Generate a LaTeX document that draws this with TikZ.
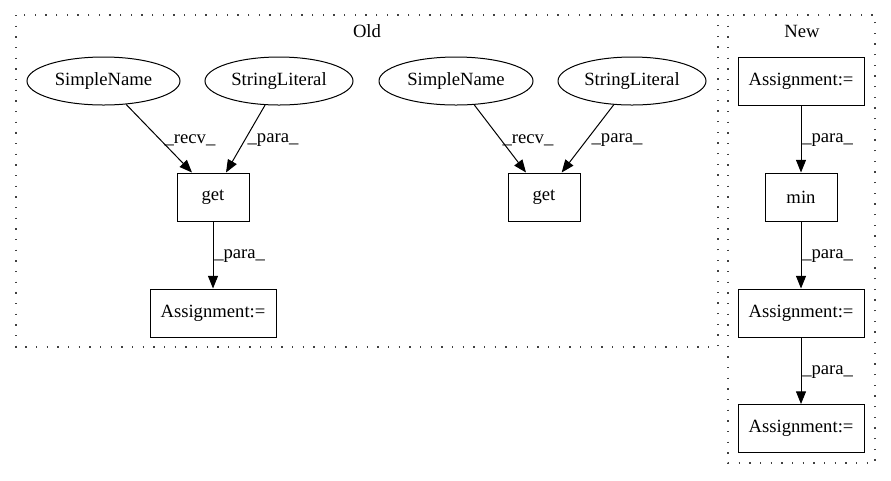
\documentclass[tikz,border=0pt]{standalone}
\usepackage{fontspec}
\setmainfont{Liberation Serif}
\usetikzlibrary{shapes.geometric,arrows.meta}
\begin{document}
\begin{tikzpicture}[x=0.75pt,y=-0.75pt,
  every node/.style={font=\fontsize{14pt}{16pt}\selectfont},
  ell/.style={draw,ellipse,line width=0.75pt,inner sep=0pt,minimum height=36pt},
  box/.style={draw,rectangle,line width=0.75pt,inner sep=0pt,minimum height=36pt},
  edge/.style={draw,line width=0.75pt,-{Triangle[length=9.5pt,width=7.5pt]}},
  lbl/.style={inner sep=0pt},
  cluster/.style={draw=black!75,line width=1.1pt,dash pattern=on 1.1pt off 6.9pt}]
\useasboundingbox (0,0) rectangle (891,480);
% clusters
\draw[cluster] (16,15) rectangle (718,347);
\draw[cluster] (728,15) rectangle (875,463);
\node (oldlbl) at (367,31) {Old};
\node (newlbl) at (802,31) {New};
% Old nodes
\node[ell,minimum width=114.75pt] (sn1) at (103.5,81) {SimpleName};
\node[ell,minimum width=111pt] (sl1) at (279,81) {StringLiteral};
\node[box,minimum width=54pt] (get1) at (213,197) {get};
\node[box,minimum width=94.5pt] (asg1) at (213,313) {Assignment:=};
\node[ell,minimum width=115.5pt] (sn2) at (456,81) {SimpleName};
\node[ell,minimum width=111pt] (sl2) at (632,81) {StringLiteral};
\node[box,minimum width=54pt] (get2) at (544,197) {get};
% New nodes
\node[box,minimum width=94.5pt] (na1) at (801,81) {Assignment:=};
\node[box,minimum width=54pt] (min) at (801,197) {min};
\node[box,minimum width=94.5pt] (na2) at (801,313) {Assignment:=};
\node[box,minimum width=94.5pt] (na3) at (801,428.5) {Assignment:=};
% edges
\draw[edge] (sn1) -- ([xshift=-15.75pt]get1.north);
\node[lbl] (l1) at (190,140) {\_recv\_};
\draw[edge] (sl1) -- ([xshift=9.75pt]get1.north);
\node[lbl] (l2) at (273,140) {\_para\_};
\draw[edge] (get1) -- (asg1);
\node[lbl,anchor=west] (l3) at (214,256) {\_para\_};
\draw[edge] (sn2) -- ([xshift=-13.5pt]get2.north);
\node[lbl] (l4) at (528,140) {\_recv\_};
\draw[edge] (sl2) -- ([xshift=13.25pt]get2.north);
\node[lbl] (l5) at (617,140) {\_para\_};
\draw[edge] (na1) -- (min);
\node[lbl,anchor=west] (l6) at (802,140) {\_para\_};
\draw[edge] (min) -- (na2);
\node[lbl,anchor=west] (l7) at (802,256) {\_para\_};
\draw[edge] (na2) -- (na3);
\node[lbl,anchor=west] (l8) at (802,372) {\_para\_};
\end{tikzpicture}
\end{document}
